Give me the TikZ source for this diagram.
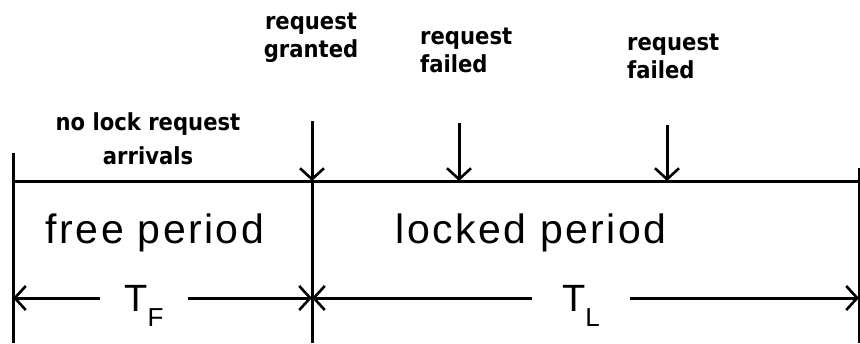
\documentclass[tikz,border=0pt]{standalone}
\usepackage{fontspec}
\setmainfont{Liberation Sans}
\newfontfamily\labelfont{DejaVu Sans Condensed}
\newfontfamily\periodfont[LetterSpace=6]{Liberation Sans}
\usetikzlibrary{arrows.meta}
\begin{document}
\begin{tikzpicture}[x=1pt,y=-1pt,
  rule/.style={line width=3pt},
  barb/.style={-{Straight Barb[length=11pt,width=24pt,line width=2.6pt]}},
  smalllabel/.style={font=\labelfont\bfseries\fontsize{23.5}{28}\selectfont, inner sep=0pt},
  biglabel/.style={font=\periodfont\fontsize{41}{44}\selectfont, inner sep=0pt},
  spanlabel/.style={font=\fontsize{38}{40}\selectfont, inner ysep=0pt}]
\useasboundingbox (0,0) rectangle (860,343);

% frame of the time line
\coordinate (L0) at (13,153);
\coordinate (L1) at (13,343);
\coordinate (Ltop) at (13,181);
\coordinate (M0) at (312,121);
\coordinate (M1) at (312,343);
\coordinate (Mtop) at (312,181);
\coordinate (R0) at (859,168);
\coordinate (R1) at (859,343);
\coordinate (Rtop) at (859,181);
\coordinate (F1a) at (459,123);
\coordinate (F1b) at (459,181);
\coordinate (F2a) at (667,125);
\coordinate (F2b) at (667,181);
\coordinate (AL) at (13,298);
\coordinate (AM) at (312,298);
\coordinate (AR) at (859,298);

\draw[rule] (L0) -- (L1);
\draw[rule] (R0) -- (R1);
\draw[rule] (Ltop) -- (Rtop);
\draw[rule] (Mtop) -- (M1);

% request arrivals
\draw[rule,barb] (M0) -- (Mtop);
\draw[rule,barb] (F1a) -- (F1b);
\draw[rule,barb] (F2a) -- (F2b);

% labels above the line
\node[smalllabel,align=center] (granted) at (311,38) {request\\granted};
\node[smalllabel,align=left,anchor=west] (fail1) at (420,50) {request\\failed};
\node[smalllabel,align=left,anchor=west] (fail2) at (627,56) {request\\failed};
\node[smalllabel,align=center,font=\labelfont\bfseries\fontsize{23.5}{34}\selectfont] (none) at (148,139) {no lock request\\arrivals};

% period names
\node[biglabel] (free) at (155,233) {free period};
\node[biglabel] (locked) at (531,233) {locked period};

% durations
\node[spanlabel,inner xsep=24pt] (TF) at (144,306) {T\raisebox{-0.4em}{\fontsize{26}{26}\selectfont F}};
\node[spanlabel,inner xsep=30pt] (TL) at (581,306) {T\raisebox{-0.4em}{\fontsize{26}{26}\selectfont L}};
\draw[rule,barb] (TF.west |- AL) -- (AL);
\draw[rule,barb] (TF.east |- AM) -- (AM);
\draw[rule,barb] (TL.west |- AM) -- (AM);
\draw[rule,barb] (TL.east |- AR) -- (AR);
\end{tikzpicture}
\end{document}
